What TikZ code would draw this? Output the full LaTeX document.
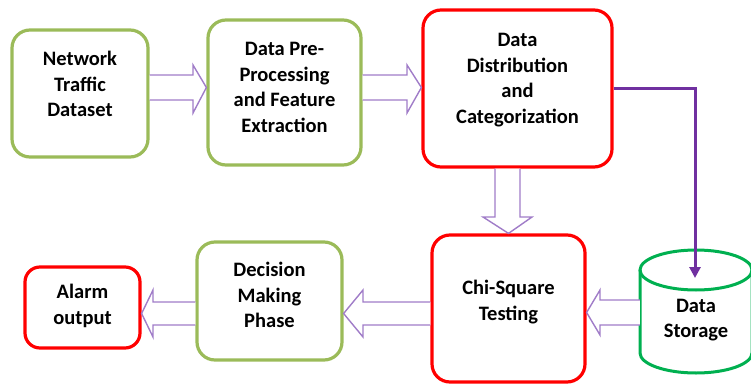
\documentclass[tikz,border=0pt]{standalone}
\usepackage{fontspec}
\setmainfont{Carlito}
\usetikzlibrary{calc,arrows.meta}
\definecolor{gbord}{HTML}{9BBB59}
\definecolor{rbord}{HTML}{FF0000}
\definecolor{cylg}{HTML}{00B050}
\definecolor{arrp}{HTML}{A07CC8}
\definecolor{linep}{HTML}{7030A0}
\tikzset{
  gbox/.style={draw=gbord,line width=3.2pt,rounded corners=18pt,fill=white},
  rbox/.style={draw=rbord,line width=3.2pt,rounded corners=18pt,fill=white},
  lbl/.style={align=center,font=\fontsize{20.5}{25.8}\selectfont\bfseries,text=black},
  blk/.style={draw=arrp,line width=1.4pt,fill=white,line join=miter},
  conn/.style={draw=linep,line width=3pt,-{Triangle[length=11pt,width=11pt]}}
}
\begin{document}
\begin{tikzpicture}[x=1pt,y=-1pt]
\useasboundingbox (0,0) rectangle (751,385);
% boxes
\node[gbox,minimum width=136pt,minimum height=127pt] (n1) at (80,93.5) {};
\node[gbox,minimum width=153pt,minimum height=145pt] (n2) at (284.5,92.5) {};
\node[rbox,minimum width=189pt,minimum height=157pt] (n3) at (517.5,88.5) {};
\node[rbox,minimum width=153pt,minimum height=147pt] (n5) at (508.5,308.5) {};
\node[gbox,minimum width=145pt,minimum height=118pt] (n6) at (269.5,301) {};
\node[rbox,minimum width=115pt,minimum height=81pt,rounded corners=15pt] (n7) at (82.5,307.5) {};
% storage cylinder
\node[minimum width=112pt,minimum height=123pt,inner sep=0pt] (st) at (696,311.5) {};
\draw[cylg,line width=3pt,fill=white] (640,270) -- (640,353) arc (180:0:56 and 20) -- (752,270);
\draw[cylg,line width=3pt] (696,270) ellipse (56 and 20);
% labels
\node[lbl] (t1) at (80,84) {Network\\Traffic\\Dataset};
\node[lbl] (t2) at (284.5,87.5) {Data Pre-\\Processing\\and Feature\\Extraction};
\node[lbl] (t3) at (517.5,80) {Data\\Distribution\\and\\Categorization};
\node[lbl] (t5) at (508.5,302) {Chi-Square\\Testing};
\node[lbl] (t6) at (269.5,295) {Decision\\Making\\Phase};
\node[lbl] (t7) at (82.5,306) {Alarm\\output};
\node[lbl] (ts) at (696,320) {Data\\Storage};
% block arrows
\draw[blk] (n1.east|-0,75) -- (193,75) -- (193,65) -- (n2.west|-0,87.5) -- (193,113) -- (193,100) -- (n1.east|-0,100);
\draw[blk] (n2.east|-0,75) -- (407,75) -- (407,65) -- (n3.west|-0,87.5) -- (407,113) -- (407,100) -- (n2.east|-0,100);
\draw[blk] (n3.south-|495,0) -- (495,217) -- (483,217) -- (n5.north) -- (532,217) -- (520,217) -- (n3.south-|520,0);
\draw[blk] (st.west|-0,300) -- (600,300) -- (600,290) -- (n5.east|-0,312.5) -- (600,335) -- (600,325) -- (st.west|-0,325);
\draw[blk] (n5.west|-0,302) -- (363,302) -- (363,290) -- (n6.east|-0,313.5) -- (363,337) -- (363,325) -- (n5.west|-0,325);
\draw[blk] (n6.west|-0,302) -- (153,302) -- (153,290) -- (n7.east|-0,313.5) -- (153,337) -- (153,325) -- (n6.west|-0,325);
% connector to storage
\coordinate (sttop) at (695,278);
\draw[conn] (n3.east|-0,89) -| (sttop);
\end{tikzpicture}
\end{document}
